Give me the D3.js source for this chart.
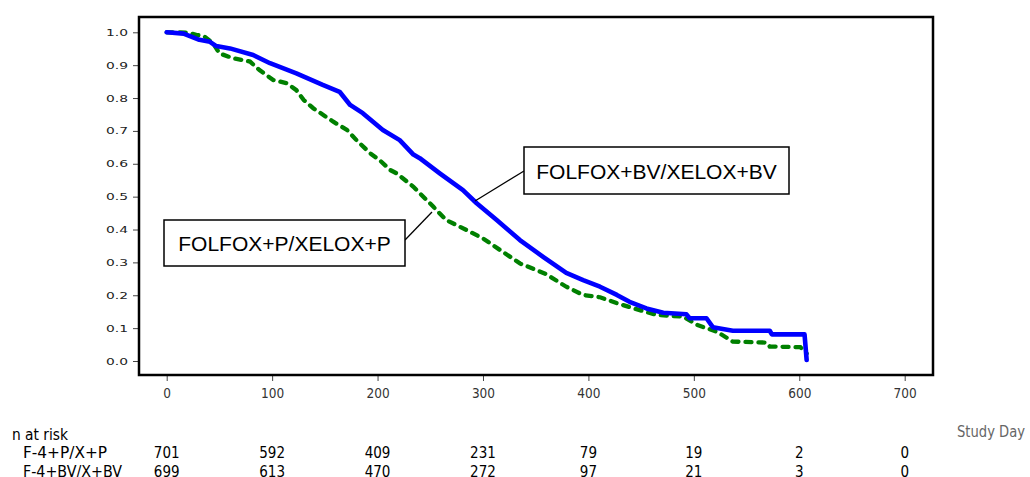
<!DOCTYPE html>
<html>
<head>
<meta charset="utf-8">
<script src="https://cdn.jsdelivr.net/npm/d3@7"></script>
<style>
  body { margin: 0; background: #fff; }
  svg { display: block; }
</style>
</head>
<body>
<div id="chart"></div>
<script>
// Kaplan-Meier estimates: [study day, survival]
var bvCurve = [
    [0, 1.0], [16, 0.996], [31, 0.977], [41, 0.971], [47, 0.958], [60, 0.951],
    [82, 0.931], [98, 0.906], [123, 0.875], [148, 0.840], [164, 0.819],
    [174, 0.779], [186, 0.754], [205, 0.703], [221, 0.672], [234, 0.628],
    [240, 0.617], [259, 0.571], [281, 0.520], [294, 0.480], [313, 0.429],
    [335, 0.368], [357, 0.317], [379, 0.268], [395, 0.246], [411, 0.226],
    [427, 0.201], [439, 0.180], [455, 0.160], [471, 0.147], [493, 0.142],
    [496, 0.130], [512, 0.130], [518, 0.103], [537, 0.092], [572, 0.092],
    [574, 0.081], [605, 0.081], [607, 0.003]
];
var pCurve = [
    [0, 1.0], [20, 0.999], [28, 0.992], [35, 0.989], [44, 0.967], [50, 0.936],
    [63, 0.921], [79, 0.911], [88, 0.885], [101, 0.855], [114, 0.845],
    [123, 0.824], [130, 0.794], [139, 0.769], [158, 0.728], [171, 0.703],
    [180, 0.672], [193, 0.632], [202, 0.611], [212, 0.581], [218, 0.571],
    [234, 0.530], [253, 0.469], [265, 0.429], [284, 0.399], [300, 0.373],
    [316, 0.338], [335, 0.297], [360, 0.264], [379, 0.226], [395, 0.201],
    [411, 0.194], [427, 0.176], [443, 0.160], [465, 0.140], [490, 0.135],
    [503, 0.110], [522, 0.089], [537, 0.059], [569, 0.056], [572, 0.044],
    [601, 0.042], [607, 0.023]
];

var xTicks = [0, 100, 200, 300, 400, 500, 600, 700];
var yTicks = [0, 0.1, 0.2, 0.3, 0.4, 0.5, 0.6, 0.7, 0.8, 0.9, 1.0];

var riskGroups = ["F-4+P/X+P", "F-4+BV/X+BV"];
var riskP = [701, 592, 409, 231, 79, 19, 2, 0];
var riskBV = [699, 613, 470, 272, 97, 21, 3, 0];

var W = 1030, H = 477;
var frame = { left: 139, top: 17, right: 933, bottom: 375 };
var narrow = "DejaVu Sans Condensed, Liberation Sans Narrow, sans-serif";

var svg = d3.select("#chart").append("svg")
    .attr("width", W)
    .attr("height", H);

var x = d3.scaleLinear().domain([0, 700]).range([166.7, 904.7]);
var y = d3.scaleLinear().domain([0, 1]).range([361, 32.3]);

// Y axis ticks (wide SAS style digits)
var yAxis = d3.axisLeft(y).tickValues(yTicks).tickSize(6).tickPadding(5)
    .tickFormat(d3.format(".1f"));
var yg = svg.append("g")
    .attr("transform", "translate(" + frame.left + ",0)")
    .call(yAxis);
yg.select(".domain").remove();
yg.selectAll(".tick line").attr("stroke", "#444");
yg.selectAll(".tick text")
    .attr("font-family", "DejaVu Sans, sans-serif")
    .attr("font-size", "9.5px")
    .attr("textLength", 22)
    .attr("lengthAdjust", "spacingAndGlyphs")
    .attr("fill", "#222");

// X axis ticks
var xAxis = d3.axisBottom(x).tickValues(xTicks).tickSize(6).tickPadding(7);
var xg = svg.append("g")
    .attr("transform", "translate(0," + frame.bottom + ")")
    .call(xAxis);
xg.select(".domain").remove();
xg.selectAll(".tick line").attr("stroke", "#444");
xg.selectAll(".tick text")
    .attr("font-family", narrow)
    .attr("font-size", "13.5px")
    .attr("fill", "#333");

// Frame
svg.append("rect")
    .attr("x", frame.left)
    .attr("y", frame.top)
    .attr("width", frame.right - frame.left)
    .attr("height", frame.bottom - frame.top)
    .attr("fill", "none")
    .attr("stroke", "#000")
    .attr("stroke-width", 2.5);

var line = d3.line()
    .x(function (d) { return x(d[0]); })
    .y(function (d) { return y(d[1]); });

svg.append("path")
    .datum(pCurve)
    .attr("d", line)
    .attr("fill", "none")
    .attr("stroke", "#008000")
    .attr("stroke-width", 4.3)
    .attr("stroke-linecap", "round")
    .attr("stroke-dasharray", "6,7");

svg.append("path")
    .datum(bvCurve)
    .attr("d", line)
    .attr("fill", "none")
    .attr("stroke", "#0000ff")
    .attr("stroke-width", 4.6)
    .attr("stroke-linejoin", "round")
    .attr("stroke-linecap", "round");

// Curve labels
function labelBox(text, bx, by, bw, bh, lx1, ly1, lx2, ly2) {
    svg.append("line")
        .attr("x1", lx1).attr("y1", ly1)
        .attr("x2", lx2).attr("y2", ly2)
        .attr("stroke", "#000")
        .attr("stroke-width", 1.3);
    svg.append("rect")
        .attr("x", bx).attr("y", by)
        .attr("width", bw).attr("height", bh)
        .attr("fill", "#fff")
        .attr("stroke", "#000")
        .attr("stroke-width", 1.5);
    svg.append("text")
        .attr("x", bx + bw / 2)
        .attr("y", by + bh / 2 + 8)
        .attr("text-anchor", "middle")
        .attr("font-family", "Liberation Sans, Arial, sans-serif")
        .attr("font-size", "21px")
        .attr("fill", "#000")
        .text(text);
}
labelBox("FOLFOX+BV/XELOX+BV", 524, 147, 265, 47, 524, 171, 475, 201);
labelBox("FOLFOX+P/XELOX+P", 164, 220, 241, 46, 405, 240, 432, 212);

// Study Day label
svg.append("text")
    .attr("x", 957)
    .attr("y", 437)
    .attr("font-family", narrow)
    .attr("font-size", "15px")
    .attr("textLength", 68)
    .attr("lengthAdjust", "spacingAndGlyphs")
    .attr("fill", "#666")
    .text("Study Day");

// Numbers at risk
svg.append("text")
    .attr("x", 12)
    .attr("y", 440)
    .attr("font-family", narrow)
    .attr("font-size", "15px")
    .attr("textLength", 56)
    .attr("lengthAdjust", "spacingAndGlyphs")
    .attr("fill", "#000")
    .text("n at risk");

var groupWidths = [84, 99];
[riskP, riskBV].forEach(function (row, i) {
    var rowY = 458 + i * 18.5;
    svg.append("text")
        .attr("x", 23)
        .attr("y", rowY)
        .attr("font-family", narrow)
        .attr("font-size", "15px")
        .attr("textLength", groupWidths[i])
        .attr("lengthAdjust", "spacingAndGlyphs")
        .attr("fill", "#000")
        .text(riskGroups[i]);
    svg.selectAll(null)
        .data(row)
        .enter().append("text")
        .attr("x", function (d, j) { return x(xTicks[j]); })
        .attr("y", rowY)
        .attr("text-anchor", "middle")
        .attr("font-family", narrow)
        .attr("font-size", "15px")
        .attr("fill", "#000")
        .text(function (d) { return d; });
});
</script>
</body>
</html>
